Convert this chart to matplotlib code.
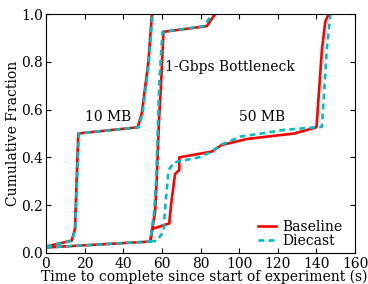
import numpy as np
import matplotlib.pyplot as plt

plt.rcParams['font.family'] = 'DejaVu Serif'
plt.rcParams['font.size'] = 10

# 10 MB transfers
base_10_x = [0, 13.3, 15, 16.7, 47.5, 49.6, 53, 54.8]
base_10_y = [0.026, 0.051, 0.1, 0.50, 0.526, 0.585, 0.80, 1.0]
dc_10_x = [0, 13.5, 15.2, 17.0, 48.0, 50.0, 53.3, 55.2]
dc_10_y = [0.026, 0.050, 0.1, 0.50, 0.526, 0.585, 0.80, 1.0]

# 10 MB over 1-Gbps bottleneck
base_gb_x = [0, 54, 55, 56.5, 57.3, 58.5, 59.4, 60.8, 83.2, 87.5]
base_gb_y = [0.022, 0.047, 0.10, 0.173, 0.305, 0.556, 0.682, 0.926, 0.95, 1.0]
dc_gb_x = [0, 54, 54.8, 56.0, 57.0, 58.0, 58.7, 60.3, 82.0, 85.8]
dc_gb_y = [0.022, 0.047, 0.10, 0.173, 0.305, 0.556, 0.724, 0.926, 0.95, 1.0]

# 50 MB transfers
base_50_x = [54, 55, 63.8, 64.8, 66.8, 69, 69, 85.8, 91, 104, 128.5, 140, 142.8, 144.6, 146.3]
base_50_y = [0.047, 0.10, 0.123, 0.206, 0.33, 0.347, 0.40, 0.424, 0.452, 0.477, 0.50, 0.526, 0.85, 0.97, 1.0]
dc_50_x = [54, 57.3, 60.8, 61.7, 63.4, 66, 79, 85.8, 90, 100.5, 110, 123.3, 142.8, 145.4, 147.2]
dc_50_y = [0.047, 0.05, 0.088, 0.19, 0.345, 0.378, 0.40, 0.424, 0.45, 0.487, 0.498, 0.515, 0.528, 0.86, 1.0]

fig, ax = plt.subplots(figsize=(3.68, 2.84), dpi=100)

red = '#ff0000'
cyan = '#00bfbf'
for xs, ys in [(base_10_x, base_10_y), (base_gb_x, base_gb_y), (base_50_x, base_50_y)]:
    ax.plot(xs, ys, color=red, lw=1.9)
for xs, ys in [(dc_10_x, dc_10_y), (dc_gb_x, dc_gb_y), (dc_50_x, dc_50_y)]:
    ax.plot(xs, ys, color=cyan, lw=1.9, ls=(0, (2.2, 1.6)))

ax.plot([], [], color=red, lw=1.9, label='Baseline')
ax.plot([], [], color=cyan, lw=1.9, ls=(0, (2.2, 1.6)), label='Diecast')

ax.text(32, 0.57, '10 MB', ha='center', va='center')
ax.text(95.3, 0.78, '1-Gbps Bottleneck', ha='center', va='center')
ax.text(112, 0.57, '50 MB', ha='center', va='center')

ax.set_xlim(0, 160)
ax.set_ylim(0, 1.0)
ax.set_xticks(np.arange(0, 161, 20))
ax.set_yticks(np.arange(0, 1.01, 0.2))
ax.tick_params(direction='in', top=True, right=True)
ax.tick_params(axis='x', pad=2.8)
ax.tick_params(axis='y', pad=2)
ax.set_xlabel('Time to complete since start of experiment (s)')
ax.xaxis.set_label_coords(0.513, -0.072, transform=ax.transAxes)
ax.xaxis.label.set_va('top')
ax.set_ylabel('Cumulative Fraction', labelpad=1)
ax.legend(loc='lower right', bbox_to_anchor=(1 - 8 / 309, 0), frameon=False,
          handlelength=1.25, borderpad=0.36, borderaxespad=0,
          labelspacing=0.0, handletextpad=0.45)

fig.subplots_adjust(left=0.125, right=0.965, top=0.95, bottom=0.11)
fig.savefig('out.png')
